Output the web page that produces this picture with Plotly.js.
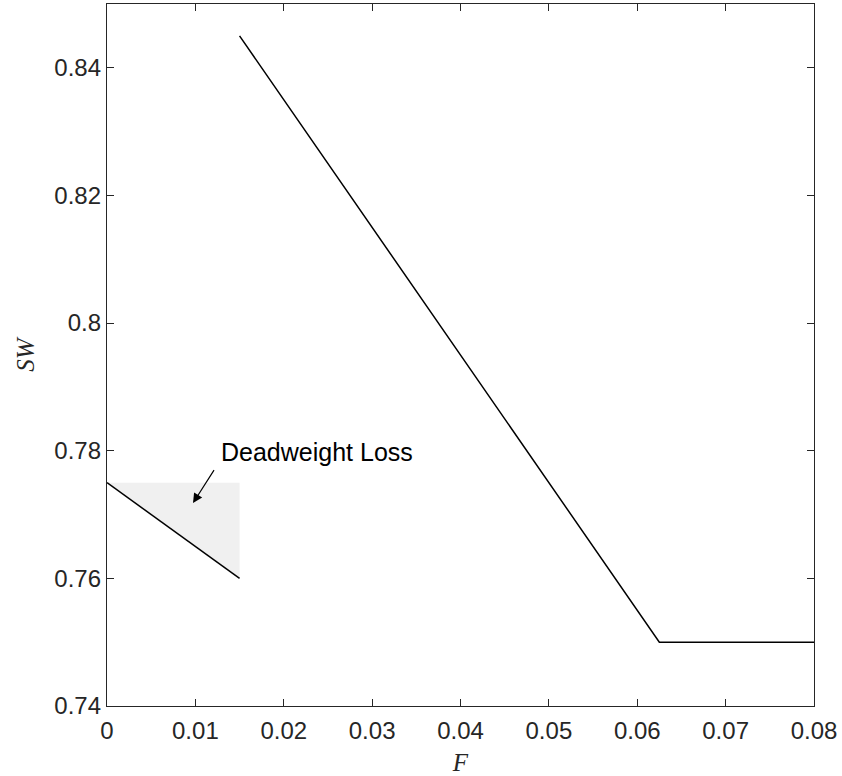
<!DOCTYPE html>
<html>
<head>
<meta charset="utf-8">
<script src="https://cdn.plot.ly/plotly-3.0.1.min.js"></script>
<style>html,body{margin:0;padding:0;background:#fff;}#chart{width:842px;height:776px;}</style>
</head>
<body>
<div id="chart"></div>
<script>
// Social welfare curve (main line)
const mainF = [0.015, 0.0625, 0.08];
const mainSW = [0.845, 0.75, 0.75];
// Lower short line
const lowF = [0, 0.015];
const lowSW = [0.775, 0.76];
// Deadweight loss triangle
const dwlF = [0, 0.015, 0.015, 0];
const dwlSW = [0.775, 0.775, 0.76, 0.775];
// Annotation
const annoText = "Deadweight Loss";
const annoTextPos = [0.0238, 0.7798];
const arrowHead = [0.00973, 0.7718];
const arrowTail = [0.01222, 0.7772];
// Ticks
const xTicks = [0, 0.01, 0.02, 0.03, 0.04, 0.05, 0.06, 0.07, 0.08];
const xTickText = ["0", "0.01", "0.02", "0.03", "0.04", "0.05", "0.06", "0.07", "0.08"];
const yTicks = [0.74, 0.76, 0.78, 0.80, 0.82, 0.84];
const yTickText = ["0.74", "0.76", "0.78", "0.8", "0.82", "0.84"];

const traces = [
  {x: dwlF, y: dwlSW, type: 'scatter', mode: 'lines', fill: 'toself',
   fillcolor: '#f0f0f0', line: {width: 0, color: 'rgba(0,0,0,0)'}, hoverinfo: 'skip', showlegend: false},
  {x: lowF, y: lowSW, type: 'scatter', mode: 'lines', line: {color: '#000', width: 1.5}, showlegend: false},
  {x: mainF, y: mainSW, type: 'scatter', mode: 'lines', line: {color: '#000', width: 1.5}, showlegend: false}
];

const tickFont = {family: 'Liberation Sans, Arial, sans-serif', size: 24, color: '#262626'};
const layout = {
  width: 842, height: 776,
  margin: {l: 107, r: 28, t: 4, b: 70},
  paper_bgcolor: '#fff', plot_bgcolor: '#fff',
  showlegend: false,
  xaxis: {
    range: [0, 0.08], tickvals: xTicks, ticktext: xTickText,
    ticks: 'inside', ticklen: 7, tickwidth: 1, tickcolor: '#262626',
    showline: true, linecolor: '#262626', linewidth: 1.2, mirror: 'allticks',
    showgrid: false, zeroline: false, tickfont: tickFont, ticklabelstandoff: 3,
    title: {text: 'F', font: {family: 'Liberation Serif, DejaVu Serif, serif', size: 25, color: '#262626', style: 'italic'}, standoff: 12}
  },
  yaxis: {
    range: [0.74, 0.85], tickvals: yTicks, ticktext: yTickText,
    ticks: 'inside', ticklen: 7, tickwidth: 1, tickcolor: '#262626',
    showline: true, linecolor: '#262626', linewidth: 1.2, mirror: 'allticks',
    showgrid: false, zeroline: false, tickfont: tickFont,
    title: {text: 'SW', font: {family: 'Liberation Serif, DejaVu Serif, serif', size: 25, color: '#262626', style: 'italic'}, standoff: 12}
  },
  annotations: [
    {x: arrowHead[0], y: arrowHead[1], ax: arrowTail[0], ay: arrowTail[1], axref: 'x', ayref: 'y',
     xref: 'x', yref: 'y', text: '', showarrow: true, arrowhead: 2, arrowsize: 1.6, arrowwidth: 1.2, arrowcolor: '#000'},
    {x: annoTextPos[0], y: annoTextPos[1], xref: 'x', yref: 'y', text: annoText, showarrow: false,
     xanchor: 'center', yanchor: 'middle', font: {family: 'Liberation Sans, Arial, sans-serif', size: 25, color: '#000'}}
  ]
};
Plotly.newPlot('chart', traces, layout, {displayModeBar: false, staticPlot: true});
</script>
</body>
</html>
